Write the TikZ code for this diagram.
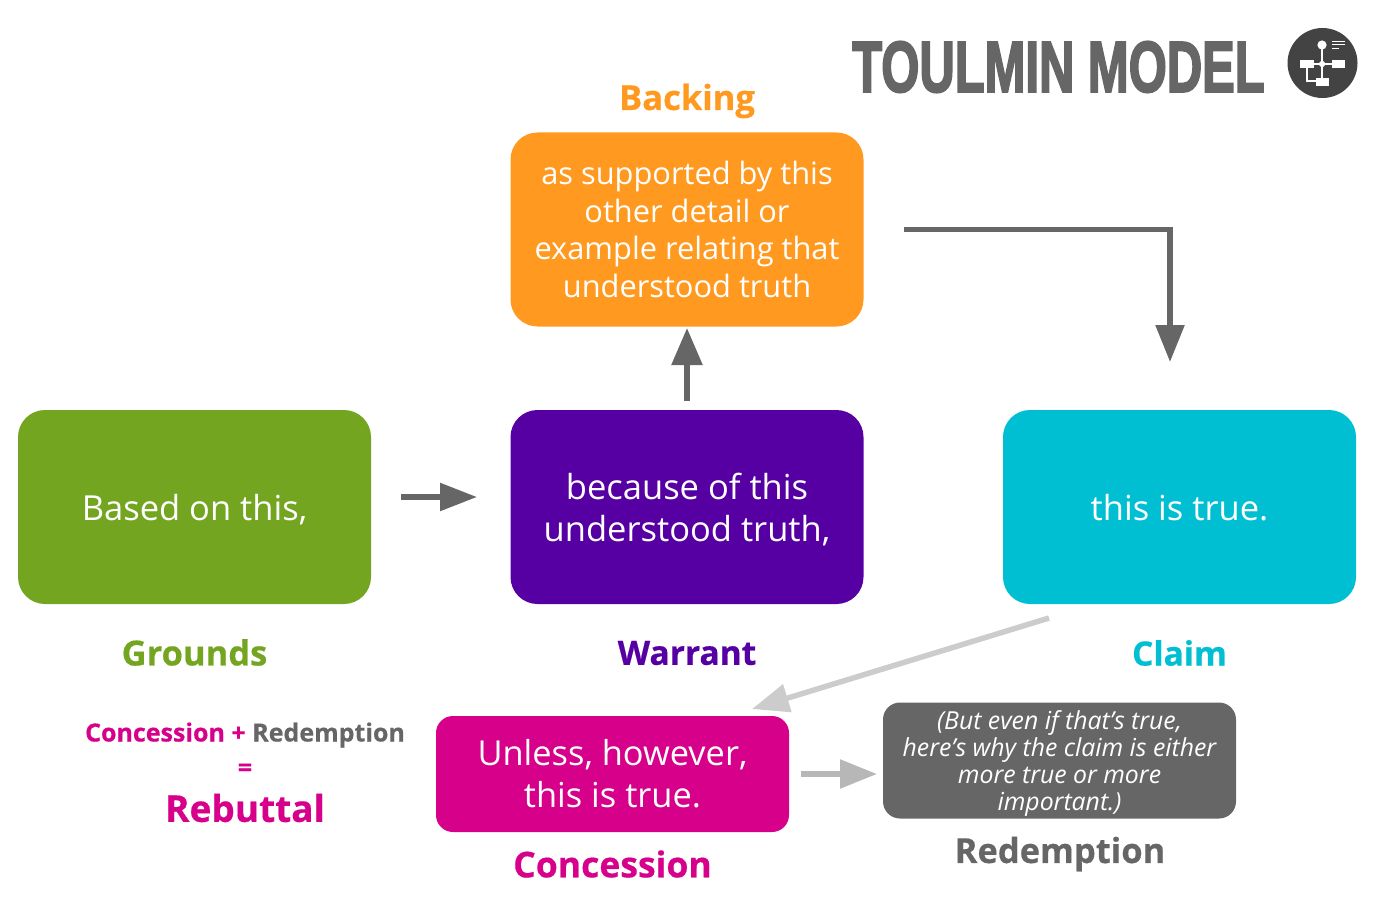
\documentclass[tikz,border=0pt]{standalone}
\usepackage{fontspec}
\setmainfont[BoldFeatures={FakeBold=0.5},ItalicFeatures={}]{Open Sans}
\newfontfamily\titlefont[FakeBold=3]{Liberation Sans Bold}
\usetikzlibrary{arrows.meta,shapes.geometric}
\definecolor{cgreen}{HTML}{73A521}
\definecolor{cpurple}{HTML}{5600A3}
\definecolor{ccyan}{HTML}{00BFD3}
\definecolor{corange}{HTML}{FF991F}
\definecolor{cmagenta}{HTML}{D6008A}
\definecolor{cgrey}{HTML}{666666}
\definecolor{cdark}{HTML}{434343}
\definecolor{clight}{HTML}{CCCCCC}
\definecolor{cmid}{HTML}{B7B7B7}
\tikzset{
  x=1pt,y=-1pt,
  bigbox/.style={rounded corners=27pt,minimum width=353pt,minimum height=194pt,inner sep=0pt,align=center,text=white,font=\fontsize{34.5}{42}\selectfont},
  smallbox/.style={rounded corners=17pt,minimum width=353pt,minimum height=116pt,inner sep=0pt,align=center,text=white},
  oneline/.style={text height=26pt,text depth=0pt},
  biglabel/.style={inner sep=0pt,font=\fontsize{34.5}{40}\selectfont\bfseries},
  conn/.style={line width=5.5pt,draw=cgrey,-{Triangle[length=37pt,width=33pt]}},
  icon/.style={fill=white,draw=none},
  iconline/.style={draw=white,line width=1.2pt},
}
\begin{document}
\begin{tikzpicture}
\useasboundingbox (0,0) rectangle (1380,912);
% boxes
\node[bigbox,oneline,fill=cgreen] (grounds) at (194.5,507) {Based on this,};
\node[bigbox,fill=cpurple] (warrant) at (687,507) {\rule{0pt}{32pt}because of this\\understood truth,};
\node[bigbox,oneline,fill=ccyan] (claim) at (1179.5,507) {this is true.};
\node[bigbox,fill=corange,font=\fontsize{30.8}{37.5}\selectfont] (backing) at (687,229.5) {as supported by this\\other detail or\\example relating that\\understood truth};
\node[smallbox,fill=cmagenta,font=\fontsize{34.4}{42}\selectfont] (concession) at (612.5,774) {Unless, however,\\this is true.};
\node[smallbox,fill=cgrey,font=\fontsize{24.8}{27.3}\selectfont\itshape] (redemption) at (1059.5,760.5) {\rule{0pt}{25pt}(But even if that’s true,\\here’s why the claim is either\\more true or more\\important.)};
% labels
\node[biglabel,text=corange] (lbacking) at (687,101) {Backing};
\node[biglabel,text=cgreen] (lgrounds) at (194.5,652.5) {Grounds};
\node[biglabel,text=cpurple,font=\fontsize{33.5}{40}\selectfont\bfseries] (lwarrant) at (687,653) {Warrant};
\node[biglabel,text=ccyan,font=\fontsize{33.5}{40}\selectfont\bfseries] (lclaim) at (1179.5,653) {Claim};
\node[biglabel,text=cmagenta,font=\fontsize{35.5}{40}\selectfont\bfseries] (lconcession) at (612.5,864) {Concession};
\node[biglabel,text=cgrey] (lredemption) at (1060,854) {Redemption};
\node[inner sep=0pt,font=\fontsize{25}{28}\selectfont\bfseries] (sum) at (245,735) {\textcolor{cmagenta}{Concession +} \textcolor{cgrey}{Redemption}};
\node[inner sep=0pt,font=\fontsize{25}{28}\selectfont\bfseries,text=cmagenta] (eq) at (245,770) {=};
\node[inner sep=0pt,font=\fontsize{37}{44}\selectfont\bfseries,text=cmagenta] (rebuttal) at (245,808) {Rebuttal};
% title
\node[inner sep=0pt,text=cgrey,xscale=0.68,font=\fontsize{72}{80}\titlefont] (title) at (1058.5,67) {TOULMIN MODEL};
% logo
\fill[cdark] (1322.5,63) circle (35);
\draw[iconline,line width=1.6pt] (1322,45) -- (1322,80) (1314,64) -- (1332,64);
\draw[iconline,line width=1.2pt] (1307,68) -- (1307,81) -- (1316,81);
\fill[icon] (1322,45) circle (4.6);
\fill[icon] (1322,60) -- (1326,64) -- (1322,68) -- (1318,64) -- cycle;
\fill[icon] (1300,60) rectangle (1314,68);
\fill[icon] (1332,60) rectangle (1345,68);
\fill[icon] (1316,78) rectangle (1329,86);
\draw[iconline,line width=.9pt] (1332,41) -- (1345,41) (1332,44.5) -- (1345,44.5) (1332,48) -- (1339,48);
% connector ends
\coordinate (gwa) at (401,497);
\coordinate (gwb) at (477,497);
\coordinate (wba) at (687,401);
\coordinate (wbb) at (687,328);
\coordinate (bca) at (904,229.5);
\coordinate (bcm) at (1170,229.5);
\coordinate (bcb) at (1170,362);
\coordinate (cca) at (1049,618);
\coordinate (ccb) at (752,709);
\coordinate (cra) at (801,774);
\coordinate (crb) at (877,774);
\draw[conn,-{Triangle[length=37pt,width=27pt]}] (gwa) -- (gwb);
\draw[conn,-{Triangle[length=37pt,width=30pt]}] (wba) -- (wbb);
\draw[conn,-{Triangle[length=37pt,width=28pt]}] (bca) -- (bcm) -- (bcb);
\draw[conn,draw=clight,-{Triangle[length=37pt,width=28pt]}] (cca) -- (ccb);
\draw[conn,draw=cmid,-{Triangle[length=37pt,width=28pt]}] (cra) -- (crb);
\end{tikzpicture}
\end{document}
